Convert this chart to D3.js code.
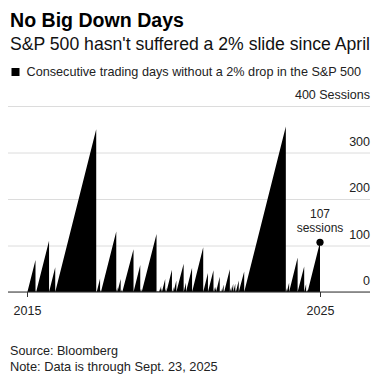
<!DOCTYPE html>
<html><head><meta charset="utf-8">
<script src="https://cdn.jsdelivr.net/npm/d3@7"></script>
<style>
html,body{margin:0;padding:0;background:#fff;}
svg{display:block;}
text{font-family:"Liberation Sans",Arial,Helvetica,sans-serif;}
</style></head>
<body>
<script>
// ---- data ----
const startDate = "2015-09-28";
const dropDates = [
 "2016-01-07","2016-01-13","2016-01-15","2016-06-24","2016-09-09",
 "2018-02-02","2018-02-05","2018-02-08","2018-03-22","2018-03-23","2018-04-02",
 "2018-10-10","2018-10-24","2018-12-04","2018-12-07","2018-12-17","2018-12-21","2018-12-24",
 "2019-05-13","2019-08-05","2019-08-14","2019-08-23",
 "2020-02-24","2020-02-25","2020-02-27","2020-03-03","2020-03-05","2020-03-09","2020-03-11",
 "2020-03-12","2020-03-16","2020-03-18","2020-03-20","2020-03-23","2020-04-01","2020-04-21",
 "2020-05-01","2020-06-11","2020-06-24","2020-06-26","2020-09-03","2020-09-08","2020-09-23",
 "2020-10-28","2021-01-27","2021-02-25","2021-05-12","2021-09-28","2021-11-26",
 "2022-02-03","2022-02-17","2022-03-07","2022-04-22","2022-04-26","2022-04-29","2022-05-05",
 "2022-05-09","2022-05-18","2022-06-10","2022-06-13","2022-06-16","2022-08-26","2022-09-13",
 "2022-10-07","2022-11-02","2022-11-09","2022-12-15","2023-02-21",
 "2024-07-24","2024-08-05","2024-09-03","2024-12-18",
 "2025-03-10","2025-04-03","2025-04-04","2025-04-10","2025-04-21"
];
const streakPeaks = [
 69,3,1,110,53,
 350,1,3,29,1,5,
 130,10,28,3,6,4,1,
 92,58,7,7,
 125,1,2,3,2,2,2,
 1,2,2,2,1,7,13,
 8,28,9,2,48,2,11,
 25,61,20,52,96,41,
 47,10,12,33,2,3,4,
 2,7,16,1,3,49,11,
 18,18,5,25,44,
 356,8,20,74,
 55,17,1,4,6
];
const lastDate = "2025-09-23";
const lastValue = 107;
const xDomain = ["2015-09-23","2025-09-23"];
const xTickLabels = ["2015","2025"];
const yTicks = [0,100,200,300,400];

// ---- build ----
const W = 381, H = 381;
const parse = d3.timeParse("%Y-%m-%d");
const pts = [{d: parse(startDate), v: 0}];
dropDates.forEach((ds, i) => {
  const d = parse(ds);
  pts.push({d, v: streakPeaks[i]});
  pts.push({d, v: 0});
});
pts.push({d: parse(lastDate), v: lastValue});

const svg = d3.select("body").append("svg").attr("width", W).attr("height", H);

const x = d3.scaleTime().domain(xDomain.map(parse)).range([27, 320]);
const y = d3.scaleLinear().domain([0, 400]).range([292, 106]);
const gridLeft = 8, gridRight = 370;

function fit(sel, target) {
  const fs = parseFloat(sel.attr("font-size"));
  const w = sel.node().getComputedTextLength();
  sel.attr("font-size", (fs * target / w).toFixed(2));
}

// titles
fit(svg.append("text").attr("x", 10).attr("y", 26.5).attr("font-size", 19)
  .attr("font-weight", "bold").attr("fill", "#000").text("No Big Down Days"), 174);
fit(svg.append("text").attr("x", 10).attr("y", 50).attr("font-size", 16)
  .attr("fill", "#111").text("S\u0026P 500 hasn't suffered a 2% slide since April"), 360);

// legend
svg.append("rect").attr("x", 11.5).attr("y", 68).attr("width", 8).attr("height", 8).attr("fill", "#000");
fit(svg.append("text").attr("x", 26.5).attr("y", 76).attr("font-size", 12)
  .attr("fill", "#222").text("Consecutive trading days without a 2% drop in the S\u0026P 500"), 335);

// y axis / gridlines
const yAxis = d3.axisRight(y).tickValues(yTicks).tickSize(gridRight - gridLeft)
  .tickFormat(d => d === 400 ? "400 Sessions" : d);
const gy = svg.append("g").attr("transform", `translate(${gridLeft},0)`).call(yAxis);
gy.select(".domain").remove();
gy.selectAll(".tick line").attr("stroke", "#dcdcdc").attr("stroke-width", 1);
gy.selectAll(".tick text").attr("x", gridRight - gridLeft).attr("dy", -7.5)
  .attr("text-anchor", "end").attr("fill", "#222")
  .attr("font-size", 12.5).attr("font-family", "Liberation Sans, Arial, sans-serif");

// area
const area = d3.area().x(d => x(d.d)).y0(y(0)).y1(d => y(d.v));
svg.append("path").datum(pts).attr("d", area).attr("fill", "#000");

// baseline
svg.append("line").attr("x1", gridLeft).attr("x2", gridRight)
  .attr("y1", y(0)).attr("y2", y(0)).attr("stroke", "#333").attr("stroke-width", 1);

// x axis
const xAxis = d3.axisBottom(x).tickValues(xDomain.map(parse)).tickSize(5).tickPadding(9)
  .tickFormat((d, i) => xTickLabels[i]);
const gx = svg.append("g").attr("transform", `translate(0,${y(0)})`).call(xAxis);
gx.select(".domain").remove();
gx.selectAll(".tick line").attr("stroke", "#333");
gx.selectAll(".tick text").attr("fill", "#222").attr("font-size", 12.5)
  .attr("font-family", "Liberation Sans, Arial, sans-serif");

// annotation
const lp = pts[pts.length - 1];
svg.append("circle").attr("cx", x(lp.d)).attr("cy", y(lp.v)).attr("r", 3.6).attr("fill", "#000");
svg.append("text").attr("x", x(lp.d)).attr("y", y(lp.v) - 24.5).attr("text-anchor", "middle")
  .attr("font-size", 12).attr("fill", "#222").text(lastValue);
svg.append("text").attr("x", x(lp.d)).attr("y", y(lp.v) - 10).attr("text-anchor", "middle")
  .attr("font-size", 12).attr("fill", "#222").text("sessions");

// source
fit(svg.append("text").attr("x", 10).attr("y", 355).attr("font-size", 12.5)
  .attr("fill", "#222").text("Source: Bloomberg"), 108);
fit(svg.append("text").attr("x", 10).attr("y", 371).attr("font-size", 12.5)
  .attr("fill", "#222").text("Note: Data is through Sept. 23, 2025"), 208);
</script>
</body></html>
